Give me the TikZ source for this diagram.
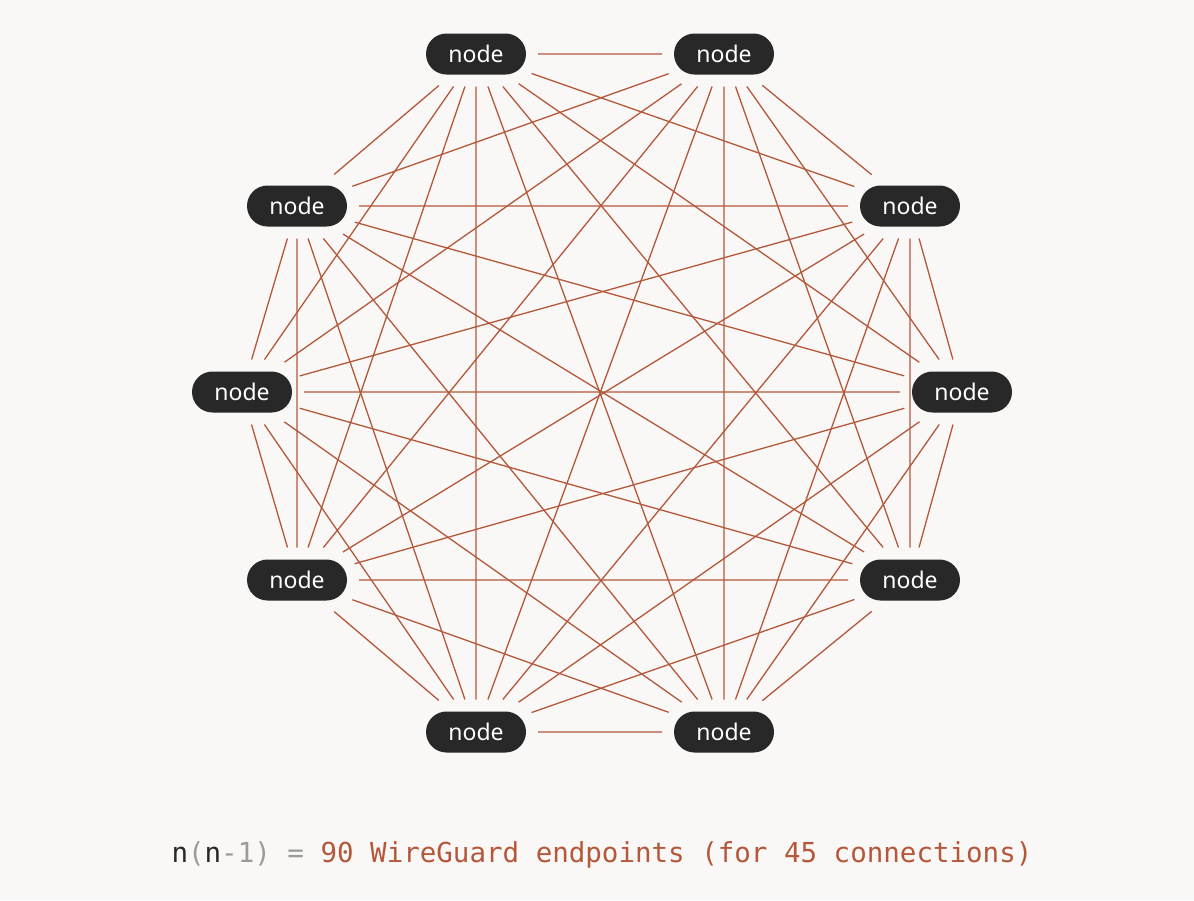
\documentclass[tikz,border=0pt]{standalone}
\usepackage{fontspec}
\setmainfont{Noto Sans}
\setmonofont{DejaVu Sans Mono}
\usetikzlibrary{positioning,shapes.misc}

\definecolor{rust}{HTML}{B4583B}
\definecolor{ink}{HTML}{282828}
\definecolor{paper}{HTML}{F9F8F6}
\definecolor{dim}{HTML}{9A9A9A}

\begin{document}
\begin{tikzpicture}[x=1pt,y=-1pt,
		peer/.style={rounded rectangle, fill=ink, text=white, minimum width=100pt, minimum height=41pt, inner sep=0pt, outer sep=12pt, font=\fontsize{23}{23}\selectfont},
		link/.style={draw=rust, line width=1.3pt}]
			\fill[paper] (0,0) rectangle (1194,900);
			
			\node (p1)  [peer] at (476,54)  {node};
			\node (p2)  [peer] at (724,54)  {node};
			\node (p3)  [peer] at (910,206) {node};
			\node (p4)  [peer] at (962,392) {node};
			\node (p5)  [peer] at (910,580) {node};
			\node (p6)  [peer] at (724,732) {node};
			\node (p7)  [peer] at (476,732) {node};
			\node (p8)  [peer] at (297,580) {node};
			\node (p9)  [peer] at (242,392) {node};
			\node (p10) [peer] at (297,206) {node};
			
			\foreach \a in {1,...,9} {
				\pgfmathtruncatemacro\nexta{\a+1}
				\foreach \b in {\nexta,...,10}
					\draw[link] (p\a) -- (p\b);
			}
			
			\node (sum) at (602,855) {\fontsize{27.5}{30}\selectfont\ttfamily
				\textcolor{ink}{n}\textcolor{dim}{(}\textcolor{ink}{n}\textcolor{dim}{-1) =} \textcolor{rust}{90 WireGuard endpoints (for 45 connections)}};
		\end{tikzpicture}
\end{document}
